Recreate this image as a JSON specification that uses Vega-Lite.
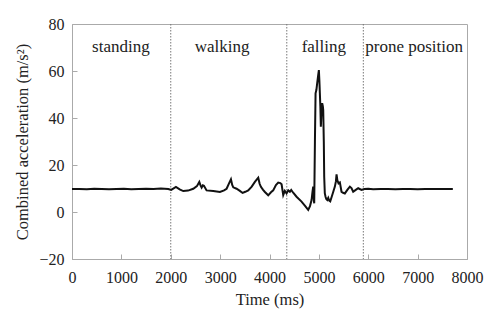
{
  "$schema": "https://vega.github.io/schema/vega-lite/v6.json",
  "width": 395,
  "height": 235,
  "autosize": {"type": "none"},
  "padding": {"left": 72, "top": 24, "right": 33, "bottom": 69},
  "background": "white",
  "config": {
    "font": "Liberation Serif",
    "view": {"stroke": "#aaaaaa", "strokeWidth": 1},
    "axis": {
      "grid": false,
      "domainColor": "#aaaaaa",
      "tickColor": "#aaaaaa",
      "labelFont": "Liberation Serif",
      "titleFont": "Liberation Serif",
      "labelFontSize": 16,
      "titleFontSize": 16.5,
      "labelColor": "#222222",
      "titleColor": "#222222",
      "titleFontWeight": "normal"
    }
  },
  "datasets": {
    "signal": [
      {"t": 0, "a": 9.8}, {"t": 150, "a": 9.8}, {"t": 300, "a": 9.7}, {"t": 450, "a": 9.9},
      {"t": 600, "a": 9.8}, {"t": 750, "a": 9.7}, {"t": 900, "a": 9.8}, {"t": 1050, "a": 9.9},
      {"t": 1200, "a": 9.7}, {"t": 1350, "a": 9.8}, {"t": 1500, "a": 9.9}, {"t": 1650, "a": 9.8},
      {"t": 1800, "a": 10.0}, {"t": 1950, "a": 9.8}, {"t": 2010, "a": 9.4}, {"t": 2105, "a": 10.7},
      {"t": 2180, "a": 9.6}, {"t": 2254, "a": 8.9}, {"t": 2350, "a": 9.1}, {"t": 2456, "a": 9.9},
      {"t": 2530, "a": 11.0}, {"t": 2578, "a": 12.8}, {"t": 2605, "a": 11.2}, {"t": 2625, "a": 10.4},
      {"t": 2650, "a": 11.4}, {"t": 2672, "a": 11.2}, {"t": 2726, "a": 9.2}, {"t": 2861, "a": 8.9},
      {"t": 2996, "a": 8.5}, {"t": 3080, "a": 9.2}, {"t": 3131, "a": 9.9}, {"t": 3178, "a": 12.1},
      {"t": 3219, "a": 13.9}, {"t": 3245, "a": 11.5}, {"t": 3266, "a": 10.5}, {"t": 3333, "a": 9.9},
      {"t": 3400, "a": 9.0}, {"t": 3455, "a": 8.1}, {"t": 3510, "a": 8.6}, {"t": 3569, "a": 9.2},
      {"t": 3640, "a": 10.8}, {"t": 3704, "a": 12.8}, {"t": 3772, "a": 14.6}, {"t": 3800, "a": 12.0},
      {"t": 3826, "a": 10.7}, {"t": 3870, "a": 9.4}, {"t": 3907, "a": 8.5}, {"t": 3974, "a": 7.1},
      {"t": 4030, "a": 8.4}, {"t": 4075, "a": 9.2}, {"t": 4130, "a": 11.5}, {"t": 4177, "a": 12.5},
      {"t": 4220, "a": 12.3}, {"t": 4245, "a": 11.8}, {"t": 4278, "a": 7.2}, {"t": 4310, "a": 9.0},
      {"t": 4346, "a": 7.9}, {"t": 4380, "a": 9.2}, {"t": 4413, "a": 8.6}, {"t": 4440, "a": 9.4},
      {"t": 4480, "a": 8.2}, {"t": 4548, "a": 6.5}, {"t": 4649, "a": 4.4}, {"t": 4720, "a": 2.6},
      {"t": 4784, "a": 0.9}, {"t": 4820, "a": 2.5}, {"t": 4852, "a": 5.1}, {"t": 4870, "a": 8.5},
      {"t": 4885, "a": 10.8}, {"t": 4900, "a": 4.5}, {"t": 4906, "a": 3.7}, {"t": 4920, "a": 30},
      {"t": 4933, "a": 50.5}, {"t": 4950, "a": 52}, {"t": 4966, "a": 54.8}, {"t": 4985, "a": 58},
      {"t": 5000, "a": 60.4}, {"t": 5010, "a": 56}, {"t": 5020, "a": 50.5}, {"t": 5030, "a": 45},
      {"t": 5040, "a": 36.3}, {"t": 5055, "a": 44}, {"t": 5067, "a": 46.3}, {"t": 5080, "a": 45},
      {"t": 5088, "a": 43.4}, {"t": 5100, "a": 30}, {"t": 5108, "a": 15}, {"t": 5120, "a": 8},
      {"t": 5135, "a": 6.5}, {"t": 5150, "a": 5.5}, {"t": 5169, "a": 5.1}, {"t": 5190, "a": 6},
      {"t": 5210, "a": 4.8}, {"t": 5230, "a": 4.5}, {"t": 5260, "a": 6.5}, {"t": 5290, "a": 8.5},
      {"t": 5324, "a": 10.8}, {"t": 5345, "a": 13}, {"t": 5358, "a": 16.0}, {"t": 5375, "a": 13.5},
      {"t": 5398, "a": 12.2}, {"t": 5425, "a": 12.6}, {"t": 5459, "a": 8.6}, {"t": 5490, "a": 8.2},
      {"t": 5526, "a": 7.9}, {"t": 5580, "a": 9.5}, {"t": 5628, "a": 10.8}, {"t": 5660, "a": 10.2},
      {"t": 5695, "a": 8.6}, {"t": 5740, "a": 9.3}, {"t": 5796, "a": 10.1}, {"t": 5864, "a": 9.4},
      {"t": 5920, "a": 9.8}, {"t": 6000, "a": 9.9}, {"t": 6100, "a": 9.7}, {"t": 6250, "a": 9.8},
      {"t": 6400, "a": 9.8}, {"t": 6550, "a": 9.7}, {"t": 6700, "a": 9.8}, {"t": 6850, "a": 9.8},
      {"t": 7000, "a": 9.7}, {"t": 7150, "a": 9.8}, {"t": 7300, "a": 9.8}, {"t": 7450, "a": 9.8},
      {"t": 7600, "a": 9.8}, {"t": 7713, "a": 9.8}
    ],
    "bounds": [{"t": 2000}, {"t": 4350}, {"t": 5900}],
    "labels": [
      {"t": 990, "a": 70.3, "label": "standing"},
      {"t": 3040, "a": 70.3, "label": "walking"},
      {"t": 5100, "a": 70.3, "label": "falling"},
      {"t": 6930, "a": 70.3, "label": "prone position"}
    ]
  },
  "layer": [
    {
      "data": {"name": "bounds"},
      "mark": {"type": "rule", "color": "#777777", "strokeWidth": 1, "strokeDash": [1.5, 1.5]},
      "encoding": {"x": {"field": "t", "type": "quantitative"}}
    },
    {
      "data": {"name": "signal"},
      "mark": {"type": "line", "color": "#111111", "strokeWidth": 2, "interpolate": "linear"},
      "encoding": {
        "x": {
          "field": "t", "type": "quantitative",
          "scale": {"domain": [0, 8000], "nice": false},
          "axis": {"title": "Time (ms)", "format": "d", "values": [0, 1000, 2000, 3000, 4000, 5000, 6000, 7000, 8000], "tickSize": -5, "labelPadding": 15, "titlePadding": 6, "labelFlush": false}
        },
        "y": {
          "field": "a", "type": "quantitative",
          "scale": {"domain": [-20, 80], "nice": false, "zero": false},
          "axis": {"title": "Combined acceleration (m/s²)", "values": [-20, 0, 20, 40, 60, 80], "tickSize": -5, "labelPadding": 13, "titlePadding": 8, "labelFlush": false}
        }
      }
    },
    {
      "data": {"name": "labels"},
      "mark": {"type": "text", "font": "Liberation Serif", "fontSize": 17, "color": "#222222", "align": "center", "baseline": "middle"},
      "encoding": {
        "x": {"field": "t", "type": "quantitative"},
        "y": {"field": "a", "type": "quantitative"},
        "text": {"field": "label"}
      }
    }
  ]
}
